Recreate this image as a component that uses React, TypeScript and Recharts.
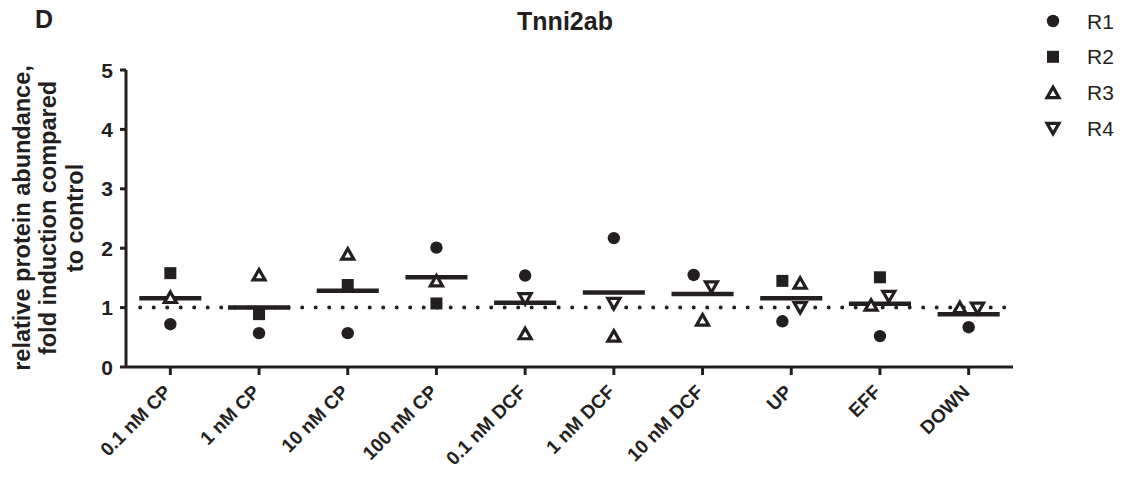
import React from "react";
import { ScatterChart, Scatter, XAxis, YAxis, ReferenceLine } from "recharts";

const categories = [
  "0.1 nM CP",
  "1 nM CP",
  "10 nM CP",
  "100 nM CP",
  "0.1 nM DCF",
  "1 nM DCF",
  "10 nM DCF",
  "UP",
  "EFF",
  "DOWN",
];

// one array per replicate, null where the replicate has no point
const r1 = [0.72, 0.57, 0.57, 2.01, 1.54, 2.17, 1.55, 0.77, 0.52, 0.67];
const r2 = [1.58, 0.89, 1.38, 1.07, null, null, null, 1.45, 1.51, null];
const r3 = [1.17, 1.55, 1.9, 1.45, 0.56, 0.52, 0.79, 1.41, 1.04, 1.0];
const r4 = [null, null, null, null, 1.15, 1.07, 1.35, 1.0, 1.19, 0.99];

const seriesNames = ["R1", "R2", "R3", "R4"];
const yTicks = [0, 1, 2, 3, 4, 5];
const controlLevel = 1;

const INK = "#231f20";
const FONT = "'Liberation Sans', Arial, Helvetica, sans-serif";

const replicates = [r1, r2, r3, r4];

// spread points of one column sideways when they sit too close (like Prism does)
const STEP = 0.2;
const CLOSE = 0.3;
const offsets = replicates.map(() => categories.map(() => 0));
categories.forEach((_, i) => {
  const pts = replicates
    .map((arr, s) => ({ s, v: arr[i] as number | null }))
    .filter((p) => p.v != null)
    .sort((a, b) => (a.v as number) - (b.v as number));
  let group: { s: number; v: number | null }[] = [];
  const flush = () => {
    const n = group.length;
    group
      .sort((a, b) => a.s - b.s)
      .forEach((p, k) => {
        offsets[p.s][i] = (k - (n - 1) / 2) * STEP;
      });
    group = [];
  };
  pts.forEach((p, k) => {
    if (k > 0 && (p.v as number) - (pts[k - 1].v as number) >= CLOSE) flush();
    group.push(p);
  });
  flush();
});

const means = categories.map((_, i) => {
  const vals = replicates.map((a) => a[i]).filter((v) => v != null) as number[];
  return vals.reduce((t, v) => t + v, 0) / vals.length;
});

const seriesData = replicates.map((arr, s) =>
  arr
    .map((v, i) => (v == null ? null : { x: i + offsets[s][i], y: v }))
    .filter((d) => d != null)
);

const CircleMark = ({ cx, cy }: any) => <circle cx={cx} cy={cy} r={6.2} fill={INK} />;
const SquareMark = ({ cx, cy }: any) => (
  <rect x={cx - 6} y={cy - 6} width={12} height={12} fill={INK} />
);
const TriUpMark = ({ cx, cy }: any) => (
  <path
    d={`M${cx},${cy - 5.5} L${cx + 6},${cy + 5} L${cx - 6},${cy + 5} Z`}
    fill="#fff"
    stroke={INK}
    strokeWidth={3.2}
  />
);
const TriDownMark = ({ cx, cy }: any) => (
  <path
    d={`M${cx},${cy + 5.5} L${cx + 6},${cy - 5} L${cx - 6},${cy - 5} Z`}
    fill="#fff"
    stroke={INK}
    strokeWidth={3.2}
  />
);
const marks = [CircleMark, SquareMark, TriUpMark, TriDownMark];

const XTick = ({ x, y, payload }: any) => {
  const tx = x + 2;
  const ty = y + 16;
  return (
    <text
      x={tx}
      y={ty}
      transform={`rotate(-45, ${tx}, ${ty})`}
      textAnchor="end"
      fontSize={19}
      fontWeight="bold"
      fontFamily={FONT}
      fill={INK}
    >
      {categories[payload.value]}
    </text>
  );
};

const YTick = ({ x, y, payload }: any) => (
  <text
    x={x - 5}
    y={y + 7.5}
    textAnchor="end"
    fontSize={21}
    fontWeight="bold"
    fontFamily={FONT}
    fill={INK}
  >
    {payload.value}
  </text>
);

const yLabelLines = [
  "relative protein abundance,",
  "fold induction compared",
  "to control",
];

const YLabel = () => (
  <g>
    {yLabelLines.map((line, k) => {
      const lx = 29.5 + k * 26.5;
      const ly = 218;
      return (
        <text
          key={k}
          x={lx}
          y={ly}
          transform={`rotate(-90, ${lx}, ${ly})`}
          textAnchor="middle"
          fontSize={23.5}
          fontWeight="bold"
          fontFamily={FONT}
          fill={INK}
        >
          {line}
        </text>
      );
    })}
  </g>
);

const axisLine = { stroke: INK, strokeWidth: 3 };
const tickLine = { stroke: INK, strokeWidth: 3 };

export default function App() {
  return (
    <div
      style={{
        position: "absolute",
        left: 0,
        top: 0,
        width: 1125,
        height: 486,
        background: "#fff",
      }}
    >
      <ScatterChart
        width={1125}
        height={486}
        margin={{ top: 70, right: 112, bottom: 0, left: 0 }}
      >
        <XAxis
          type="number"
          dataKey="x"
          domain={[-0.5, 9.5]}
          ticks={categories.map((_, i) => i)}
          interval={0}
          height={119}
          tickSize={8}
          axisLine={axisLine}
          tickLine={tickLine}
          tick={<XTick />}
          allowDataOverflow
        />
        <YAxis
          type="number"
          dataKey="y"
          domain={[0, 5]}
          ticks={yTicks}
          interval={0}
          width={126}
          tickSize={6}
          axisLine={axisLine}
          tickLine={tickLine}
          tick={<YTick />}
          label={{ content: () => <YLabel /> }}
        />
        <ReferenceLine
          segment={[
            { x: -0.34, y: controlLevel },
            { x: 9.42, y: controlLevel },
          ]}
          stroke={INK}
          strokeWidth={4}
          strokeDasharray="0 13.5"
          strokeLinecap="round"
        />
        {means.map((m, i) => (
          <ReferenceLine
            key={categories[i]}
            segment={[
              { x: i - 0.35, y: m },
              { x: i + 0.35, y: m },
            ]}
            stroke={INK}
            strokeWidth={4.5}
          />
        ))}
        {seriesData.map((data, s) => (
          <Scatter
            key={seriesNames[s]}
            name={seriesNames[s]}
            data={data as any[]}
            shape={marks[s]}
            isAnimationActive={false}
          />
        ))}
      </ScatterChart>

      <svg
        width={1125}
        height={486}
        style={{ position: "absolute", left: 0, top: 0, pointerEvents: "none" }}
      >
        <text x={35} y={28} fontSize={25} fontWeight="bold" fontFamily={FONT} fill={INK}>
          D
        </text>
        <text
          x={565}
          y={30}
          textAnchor="middle"
          fontSize={25}
          fontWeight="bold"
          fontFamily={FONT}
          fill={INK}
        >
          Tnni2ab
        </text>
        {seriesNames.map((name, s) => {
          const Mark = marks[s];
          const cy = 21 + s * 35.8;
          return (
            <g key={name}>
              <Mark cx={1053} cy={cy} />
              <text x={1087} y={cy + 7.5} fontSize={21} fontFamily={FONT} fill={INK}>
                {name}
              </text>
            </g>
          );
        })}
      </svg>
    </div>
  );
}
